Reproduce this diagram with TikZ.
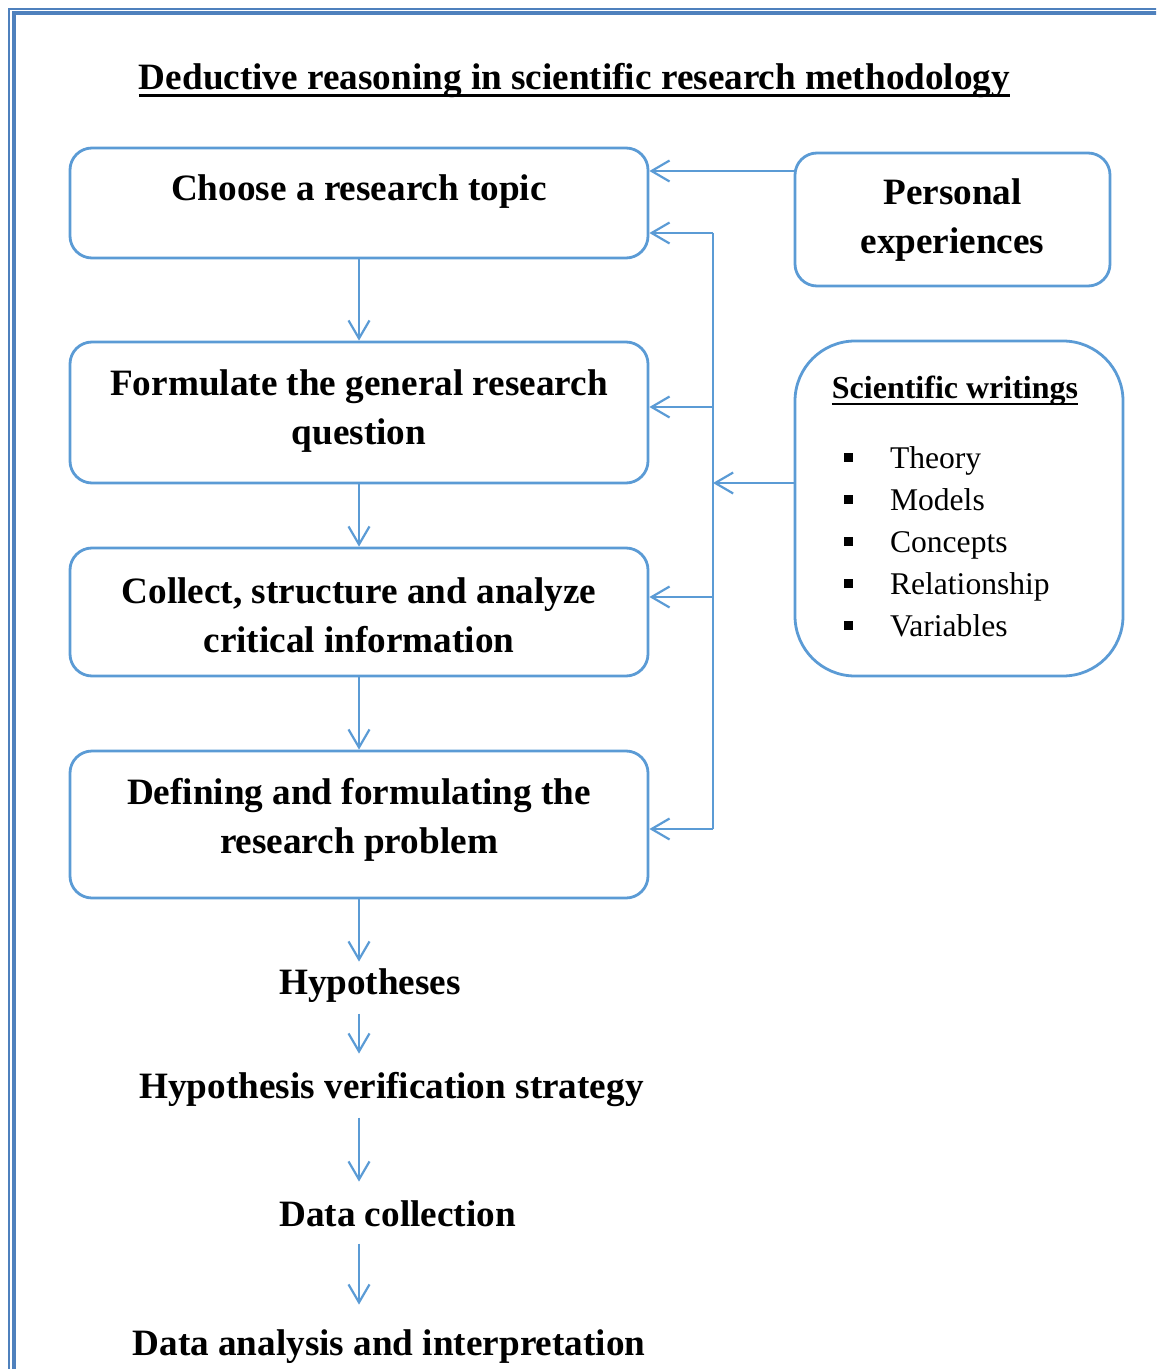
\documentclass[tikz,border=0pt]{standalone}
\usepackage{fontspec}
\setmainfont{Liberation Serif}
\usepackage{xcolor}
\usetikzlibrary{
    arrows.meta,
    positioning
}

\definecolor{boxblue}{HTML}{5B9BD5}
\definecolor{pageblue}{HTML}{4F81BD}

\newcommand{\ulined}[2][1.6pt]{\setbox0\hbox{#2}\rlap{\rule[-3.6pt]{\wd0}{#1}}\box0}
\newcommand{\sqbullet}{\rule[3.25pt]{4.5pt}{4.5pt}\hspace{18.3pt}}

\begin{document}
\begin{tikzpicture}[x=0.5pt,y=-0.5pt,>={Straight Barb[length=9pt,width=10.5pt]}]
    \tikzstyle{box}=[draw=boxblue, line width=1.4pt, rounded corners=11pt, inner sep=0pt, minimum width=289pt]
    \tikzstyle{boxtext}=[align=center, font=\fontsize{18.6}{24.5}\selectfont\bfseries, inner sep=0pt]
    \tikzstyle{steptext}=[font=\fontsize{18.6}{24.5}\selectfont\bfseries, text height=13pt, text depth=4.65pt, inner xsep=0pt, inner ysep=3pt, anchor=base]
    \tikzstyle{flow}=[->, draw=boxblue, line width=1.1pt]
    \tikzstyle{bus}=[draw=boxblue, line width=0.8pt]

    % page frame
    \useasboundingbox (0,0) rectangle (1156,1369);
    \clip (0,0) rectangle (1156,1369);
    \draw[pageblue, line width=0.8pt] (9,1390) -- (9,9) -- (1180,9);
    \draw[pageblue, line width=2pt] (13.5,1390) -- (13.5,13.5) -- (1180,13.5);

    \node[font=\fontsize{18.6}{22}\selectfont\bfseries, anchor=base] (title) at (574.5,90) {\ulined{Deductive reasoning in scientific research methodology}};

    \node[box, minimum height=55pt] (choose) at (359,203) {};
    \node[boxtext] (choose-txt) at (359,192) {Choose a research topic};

    \node[box, minimum height=70.5pt] (formulate) at (359,412.5) {};
    \node[boxtext] (formulate-txt) at (359,411) {Formulate the general research\\question};

    \node[box, minimum height=64pt] (collect) at (359,612) {};
    \node[boxtext] (collect-txt) at (359,615) {Collect, structure and analyze\\critical information};

    \node[box, minimum height=73.5pt] (define) at (359,824.5) {};
    \node[boxtext] (define-txt) at (359,819.5) {Defining and formulating the\\research problem};

    \node[box, minimum width=157.5pt, minimum height=66.5pt] (personal) at (952.5,219.5) {};
    \node[boxtext] (personal-txt) at (952.5,220.5) {Personal\\experiences};

    \node[box, rounded corners=30pt, minimum width=164pt, minimum height=167.5pt] (writings) at (959,508.5) {};
    \node[font=\fontsize{16}{20}\selectfont\bfseries, anchor=base] (writings-head) at (955,398) {\ulined[1.3pt]{Scientific writings}};
    \node[font=\fontsize{15.8}{21}\selectfont, align=left, inner sep=0pt, anchor=north west] (writings-list) at (844,446)
        {\sqbullet Theory\\ \sqbullet Models\\ \sqbullet Concepts\\ \sqbullet Relationship\\ \sqbullet Variables};

    \node[steptext] (hyp) at (370,994) {Hypotheses};
    \node[steptext] (strat) at (391.5,1098) {Hypothesis verification strategy};
    \node[steptext] (dcoll) at (397.5,1226) {Data collection};
    \node[steptext] (danal) at (389,1355) {Data analysis and interpretation};

    \draw[flow] (choose) -- (formulate);
    \draw[flow] (formulate) -- (collect);
    \draw[flow] (collect) -- (define);
    \draw[flow] (define.south) -- (define.south |- hyp.north);
    \draw[flow, shorten <=2pt, shorten >=6pt] (hyp.south -| define.south) -- (strat.north -| define.south);
    \draw[flow, shorten <=2pt, shorten >=6pt] (strat.south -| define.south) -- (dcoll.north -| define.south);
    \draw[flow, shorten <=1pt, shorten >=9pt] (dcoll.south -| define.south) -- (danal.north -| define.south);

    % feedback from the sources
    \coordinate (b1) at (713,233);
    \coordinate (b2) at (713,407);
    \coordinate (b3) at (713,597);
    \coordinate (b4) at (713,829);
    \draw[bus] (b1) -- (b4);
    \draw[flow] (b1) -- (b1 -| choose.east);
    \draw[flow] (b2) -- (b2 -| formulate.east);
    \draw[flow] (b3) -- (b3 -| collect.east);
    \draw[flow] (b4) -- (b4 -| define.east);

    \draw[flow] ([yshift=24.25pt]personal.west) coordinate (pe) -- (pe -| choose.east);
    \draw[flow] ([yshift=12.75pt]writings.west) coordinate (sw) -- (sw -| b1);
\end{tikzpicture}
\end{document}
